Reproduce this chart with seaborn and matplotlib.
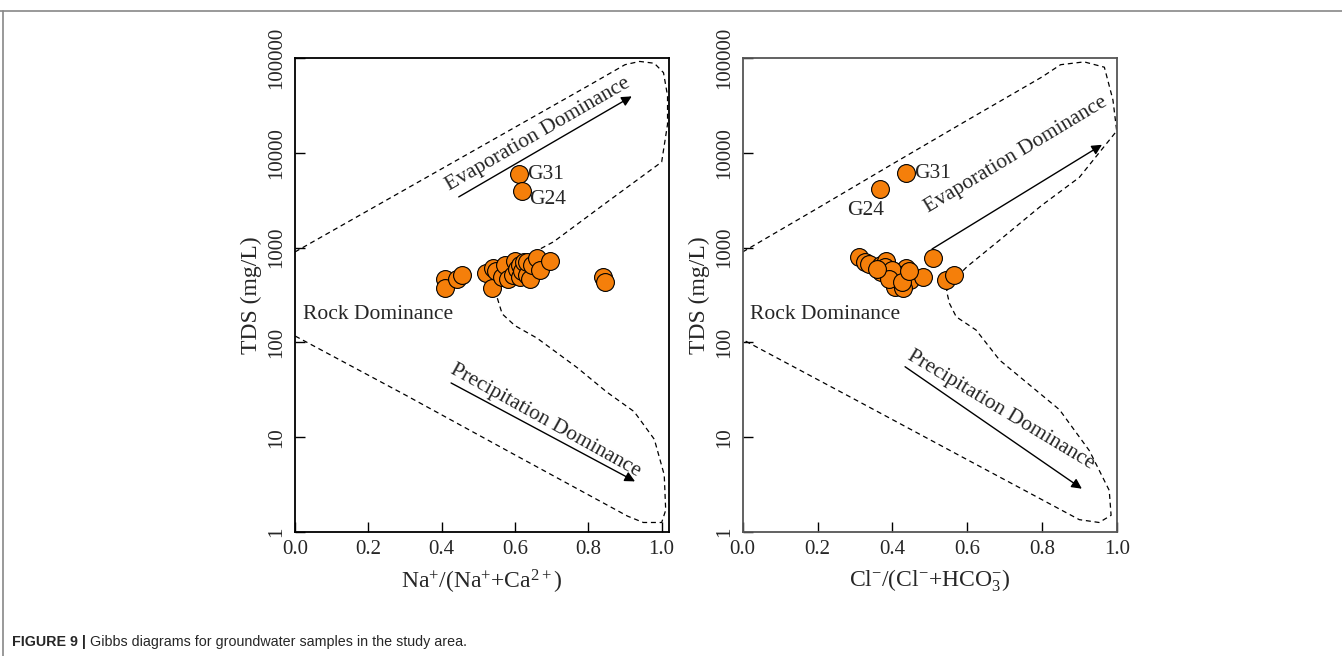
import numpy as np
import pandas as pd
import matplotlib
matplotlib.use("Agg")
import matplotlib.pyplot as plt
import seaborn as sns
from matplotlib.lines import Line2D

sns.set_theme(style="white")
plt.rcParams['font.family'] = ['Liberation Serif', 'DejaVu Serif']
plt.rcParams['mathtext.fontset'] = 'custom'
plt.rcParams['mathtext.rm'] = 'Liberation Serif'
plt.rcParams['mathtext.it'] = 'Liberation Serif:italic'

# ---------------- data ----------------
# Left panel: Na+/(Na+ + Ca2+) vs TDS
na_ratio = [0.409, 0.409, 0.443, 0.455, 0.520, 0.536, 0.541, 0.548, 0.564, 0.573,
            0.580, 0.595, 0.600, 0.605, 0.614, 0.614, 0.620, 0.625, 0.632, 0.632,
            0.640, 0.645, 0.659, 0.668, 0.695, 0.841, 0.845, 0.611, 0.618]
na_tds = [463, 372, 463, 514, 536, 372, 605, 560, 493, 655,
          470, 514, 727, 600, 655, 493, 560, 700, 514, 710,
          470, 655, 771, 580, 727, 493, 437, 5970, 3990]

# Right panel: Cl-/(Cl- + HCO3-) vs TDS
cl_ratio = [0.311, 0.326, 0.339, 0.371, 0.384, 0.371, 0.393, 0.406, 0.415, 0.437,
            0.433, 0.446, 0.406, 0.428, 0.482, 0.510, 0.544, 0.566, 0.380, 0.420,
            0.400, 0.390, 0.425, 0.360, 0.445, 0.437, 0.366]
cl_tds = [790, 710, 671, 655, 727, 557, 536, 493, 557, 605,
          493, 455, 387, 372, 486, 771, 455, 514, 620, 520,
          580, 470, 430, 600, 560, 6120, 4150]

# Gibbs boundary curves
left_bx = [0.0, 0.2, 0.4, 0.6, 0.8, 0.9, 0.94, 0.98, 1.005, 1.016, 1.016, 1.0,
           0.85, 0.705, 0.6, 0.56, 0.548, 0.551, 0.565, 0.6, 0.66, 0.77, 0.85,
           0.925, 0.98, 1.007, 1.011, 1.0, 0.95, 0.907, 0.6, 0.3, 0.0]
left_by = [900, 2470, 6780, 18600, 51000, 85000, 92000, 88000, 70000, 40000, 20000, 8000,
           3000, 1150, 700, 550, 400, 300, 200, 150, 111, 54, 30,
           18.6, 9.5, 4.0, 1.7, 1.26, 1.26, 1.47, 6.5, 28, 117]

right_bx = [0.0, 0.2, 0.4, 0.6, 0.8, 0.85, 0.913, 0.967, 0.99, 1.0, 0.9, 0.8,
            0.687, 0.6, 0.57, 0.545, 0.553, 0.571, 0.624, 0.687, 0.847, 0.927,
            0.98, 0.985, 0.953, 0.9, 0.6, 0.3, 0.0]
right_by = [900, 2600, 7600, 22000, 63000, 85000, 91000, 80000, 36000, 17000, 5500, 2800,
            1200, 630, 480, 350, 257, 186, 135, 65, 19.5, 7.2,
            2.75, 1.5, 1.26, 1.35, 5.8, 25, 107]

xticks = [0.0, 0.2, 0.4, 0.6, 0.8, 1.0]
yticks = [1, 10, 100, 1000, 10000, 100000]
ytick_labels = ["1", "10", "100", "1000", "10000", "100000"]

# ---------------- figure ----------------
W, H = 1342, 656
fig = plt.figure(figsize=(W / 100, H / 100), dpi=100)
fig.patch.set_facecolor("white")

axL = fig.add_axes([295 / W, 1 - 532 / H, 374 / W, 474 / H])
axR = fig.add_axes([742.7 / W, 1 - 532 / H, 374 / W, 474 / H])

orange = "#F57F0A"
FS_TICK = 15
FS_LAB = 17
FS_TXT = 15.5

def style_axes(ax, xmax, edgecolor):
    ax.set_yscale("log")
    ax.set_xlim(0, xmax)
    ax.set_ylim(1, 100000)
    ax.set_xticks(xticks)
    ax.set_xticklabels([f"{v:.1f}" for v in xticks], fontsize=FS_TICK)
    ax.set_yticks(yticks)
    ax.set_yticklabels(ytick_labels, fontsize=FS_TICK, rotation=90, va="center")
    ax.minorticks_off()
    ax.tick_params(axis="both", direction="in", length=7, width=1.0, color="black",
                   pad=6, left=True, bottom=True, top=False, right=False)
    for sp in ax.spines.values():
        sp.set_visible(True)
        sp.set_color(edgecolor)
        sp.set_linewidth(1.3)
    ax.set_facecolor("white")
    ax.grid(False)

def draw_panel(ax, xs, ys, bx, by, xlabel, xmax, edgecolor):
    ax.plot(bx, by, color="black", linestyle=(0, (4, 3)), linewidth=0.9)
    df = pd.DataFrame({"x": xs, "y": ys})
    sns.scatterplot(data=df, x="x", y="y", ax=ax, s=165, color=orange,
                    edgecolor="black", linewidth=0.8, zorder=3, legend=False)
    style_axes(ax, xmax, edgecolor)
    ax.set_xlabel(xlabel, fontsize=FS_LAB, labelpad=6)
    ax.set_ylabel("TDS (mg/L)", fontsize=FS_LAB, labelpad=4)

draw_panel(axL, na_ratio, na_tds, left_bx, left_by,
           r"$\mathrm{Na^{+}/(Na^{+}{+}Ca^{2+})}$", 1.02, "black")
draw_panel(axR, cl_ratio, cl_tds, right_bx, right_by,
           r"$\mathrm{Cl^{-}/(Cl^{-}{+}HCO_{3}^{-})}$", 1.0, "#555555")

arrow_kw = dict(arrowstyle="-|>", color="black", lw=1.0, mutation_scale=15)

# Left annotations
axL.annotate("", xy=(0.925, 10**4.61), xytext=(0.44, 10**3.52), arrowprops=arrow_kw)
axL.annotate("", xy=(0.934, 10**0.52), xytext=(0.419, 10**1.586), arrowprops=arrow_kw)
axL.text(0.662, 10**4.19, "Evaporation Dominance", fontsize=FS_TXT, rotation=30,
         ha="center", va="center", rotation_mode="anchor")
axL.text(0.682, 10**1.17, "Precipitation Dominance", fontsize=FS_TXT, rotation=-29,
         ha="center", va="center", rotation_mode="anchor")
axL.text(0.022, 195, "Rock Dominance", fontsize=FS_TXT, ha="left", va="center")
axL.text(0.633, 5970, "G31", fontsize=FS_TXT, ha="left", va="center")
axL.text(0.638, 3250, "G24", fontsize=FS_TXT, ha="left", va="center")

# Right annotations
axR.annotate("", xy=(0.967, 10**4.1), xytext=(0.5, 10**2.97), arrowprops=arrow_kw)
axR.annotate("", xy=(0.913, 10**0.44), xytext=(0.428, 10**1.76), arrowprops=arrow_kw)
axR.text(0.73, 10**3.98, "Evaporation Dominance", fontsize=FS_TXT, rotation=31,
         ha="center", va="center", rotation_mode="anchor")
axR.text(0.69, 19.3, "Precipitation Dominance", fontsize=FS_TXT, rotation=-31,
         ha="center", va="center", rotation_mode="anchor")
axR.text(0.02, 195, "Rock Dominance", fontsize=FS_TXT, ha="left", va="center")
axR.text(0.458, 6120, "G31", fontsize=FS_TXT, ha="left", va="center")
axR.text(0.28, 2450, "G24", fontsize=FS_TXT, ha="left", va="center")

# Page frame lines
fig.add_artist(Line2D([0, 1], [1 - 10.5 / H, 1 - 10.5 / H], transform=fig.transFigure,
                      color="#888888", lw=1.2))
fig.add_artist(Line2D([3 / W, 3 / W], [0, 1 - 10.5 / H], transform=fig.transFigure,
                      color="#888888", lw=1.2))

# Caption
cap_font = ["Liberation Sans", "DejaVu Sans"]
t1 = fig.text(12 / W, 1 - 642 / H, "FIGURE 9 |", fontsize=10.3, fontweight="bold",
              family=cap_font, ha="left", va="center")
fig.canvas.draw()
bb = t1.get_window_extent(renderer=fig.canvas.get_renderer())
fig.text((bb.x1 + 4) / W, 1 - 642 / H,
         "Gibbs diagrams for groundwater samples in the study area.",
         fontsize=10.3, family=cap_font, ha="left", va="center")

fig.savefig("out.png", dpi=100, facecolor="white")
